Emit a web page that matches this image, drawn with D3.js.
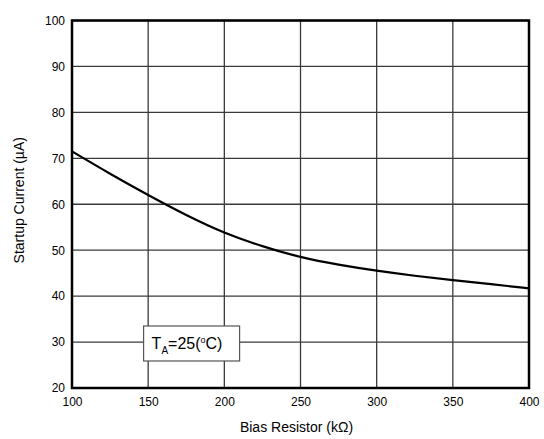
<!DOCTYPE html>
<html>
<head>
<meta charset="utf-8">
<script src="https://cdn.jsdelivr.net/npm/d3@7"></script>
<style>
  body { margin: 0; background: #fff; }
  text { font-family: "Liberation Sans", Arial, sans-serif; }
</style>
</head>
<body>
<svg id="chart"></svg>
<script>
// values
const biasResistor = [100, 125, 150, 175, 200, 225, 250, 275, 300, 325, 350, 375, 400];
const startupCurrent = [71.5, 66.6, 62.0, 57.6, 53.7, 50.8, 48.4, 46.8, 45.5, 44.4, 43.5, 42.6, 41.7];
const xTicks = [100, 150, 200, 250, 300, 350, 400];
const yTicks = [20, 30, 40, 50, 60, 70, 80, 90, 100];

const width = 544, height = 439;
const margin = { top: 20.5, right: 15, bottom: 51, left: 72 };
const w = width - margin.left - margin.right;
const h = height - margin.top - margin.bottom;

let svg = d3.select("#chart").attr("width", width).attr("height", height);
let chart = svg.append("g").attr("transform", `translate(${margin.left},${margin.top})`);

let xScale = d3.scaleLinear().domain([100, 400]).range([0, w]);
let yScale = d3.scaleLinear().domain([20, 100]).range([h, 0]);

// grid
chart.append("g")
    .selectAll("line")
    .data(xTicks)
    .enter()
    .append("line")
    .attr("x1", d => xScale(d)).attr("x2", d => xScale(d))
    .attr("y1", 0).attr("y2", h)
    .attr("stroke", "#3a3a3a").attr("stroke-width", 1.3);

chart.append("g")
    .selectAll("line")
    .data(yTicks)
    .enter()
    .append("line")
    .attr("x1", 0).attr("x2", w)
    .attr("y1", d => yScale(d)).attr("y2", d => yScale(d))
    .attr("stroke", "#3a3a3a").attr("stroke-width", 1.3);

// axes (labels only)
let xAxis = d3.axisBottom(xScale).tickValues(xTicks).tickSize(0).tickPadding(9);
let yAxis = d3.axisLeft(yScale).tickValues(yTicks).tickSize(0).tickPadding(7);

chart.append("g").attr("transform", `translate(0,${h})`).call(xAxis)
    .call(g => g.select(".domain").remove())
    .selectAll("text").attr("font-size", 12).attr("fill", "#000")
    .attr("font-family", "Liberation Sans, Arial, sans-serif");
chart.append("g").call(yAxis)
    .call(g => g.select(".domain").remove())
    .selectAll("text").attr("font-size", 12).attr("fill", "#000")
    .attr("font-family", "Liberation Sans, Arial, sans-serif");

// curve
let line = d3.line()
    .x((d, i) => xScale(biasResistor[i]))
    .y(d => yScale(d))
    .curve(d3.curveBasis);

chart.append("path")
    .datum(startupCurrent)
    .attr("d", line)
    .attr("fill", "none")
    .attr("stroke", "#000")
    .attr("stroke-width", 2.2);

// frame
chart.append("rect")
    .attr("x", 0).attr("y", 0).attr("width", w).attr("height", h)
    .attr("fill", "none").attr("stroke", "#000").attr("stroke-width", 2.5);

// annotation
let note = chart.append("g").attr("transform", `translate(${xScale(147) }, ${yScale(33.5)})`);
note.append("rect")
    .attr("x", 0).attr("y", 0).attr("width", 96).attr("height", 35)
    .attr("fill", "#fff").attr("stroke", "#555").attr("stroke-width", 1.2);
let t = note.append("text").attr("x", 8).attr("y", 23).attr("font-size", 16);
t.append("tspan").text("T");
t.append("tspan").attr("font-size", 10).attr("dy", 5).text("A");
t.append("tspan").attr("dy", -5).text("=25(");
t.append("tspan").attr("font-size", 9).attr("dy", -6).text("o");
t.append("tspan").attr("dy", 6).text("C)");

// axis titles
svg.append("text")
    .attr("x", margin.left + w / 2 - 4)
    .attr("y", 432)
    .attr("text-anchor", "middle")
    .attr("font-size", 14)
    .text("Bias Resistor (kΩ)");

svg.append("text")
    .attr("transform", `translate(24,${margin.top + h / 2 - 4}) rotate(-90)`)
    .attr("text-anchor", "middle")
    .attr("font-size", 14)
    .text("Startup Current (µA)");
</script>
</body>
</html>
